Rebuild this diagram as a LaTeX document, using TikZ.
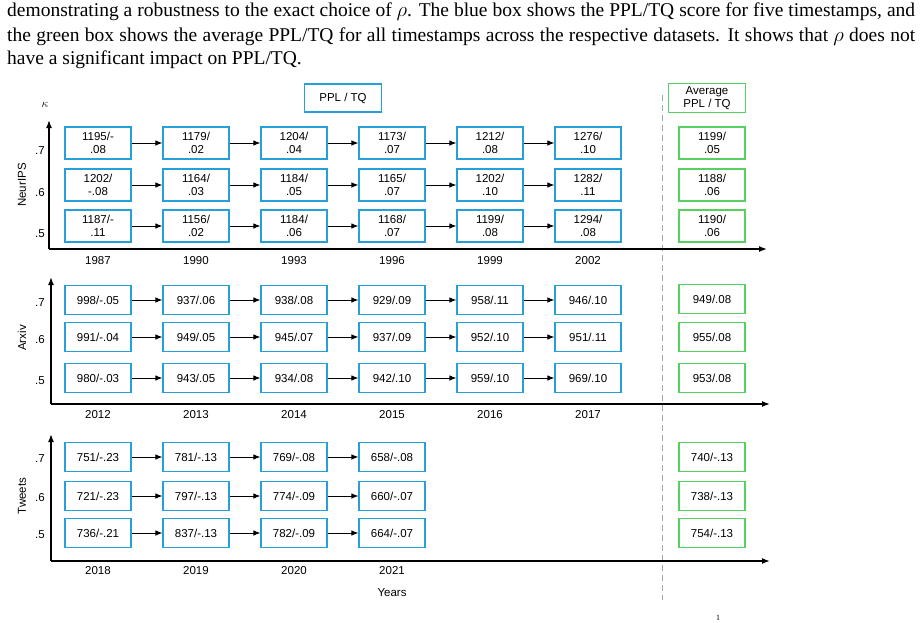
\documentclass[tikz,border=0pt]{standalone}
\usepackage{fontspec}
\setmainfont{Liberation Serif}
\setsansfont{Liberation Sans}
\usetikzlibrary{arrows.meta}
\definecolor{bbox}{RGB}{38,160,218}
\definecolor{gbox}{RGB}{88,208,96}
\begin{document}
\begin{tikzpicture}[x=1pt,y=-1pt,
  blu/.style={draw=bbox,line width=1.1pt,minimum width=66pt,inner sep=1pt,align=center,font=\sffamily\fontsize{11.5}{13}\selectfont},
  grn/.style={blu,draw=gbox},
  tall/.style={minimum height=32pt},
  short/.style={minimum height=29pt},
  conn/.style={-{Latex[length=7pt,width=5.5pt]},line width=1pt},
  ax/.style={-{Latex[length=8pt,width=6pt]},line width=1.5pt},
  lbl/.style={font=\sffamily\fontsize{11.5}{13}\selectfont},
  captxt/.style={anchor=west,inner sep=0pt,font=\fontsize{19.5}{22}\selectfont}]
\useasboundingbox (0,0) rectangle (921,622);
% caption
\node[captxt] (c1) at (7,12) {\makebox[908pt][s]{demonstrating a robustness to the exact choice of $\rho$. The blue box shows the PPL/TQ score for five timestamps, and}};
\node[captxt] (c2) at (7,37) {\makebox[908pt][s]{the green box shows the average PPL/TQ for all timestamps across the respective datasets. It shows that $\rho$ does not}};
\node[captxt] (c3) at (7,60) {have a significant impact on PPL/TQ.};
% headers
\node[blu,minimum width=77pt,minimum height=28pt] (h1) at (343,98) {PPL / TQ};
\node[grn,minimum width=77pt,minimum height=29pt] (h2) at (707,98) {Average\\PPL / TQ};
\node[lbl,font=\fontsize{12}{13}\selectfont] (kappa) at (45,105) {$\kappa$};
\draw[gray!70,line width=1pt,dash pattern=on 6pt off 4pt] (662,95) -- (662,600);
% NeurIPS
\coordinate (o1) at (49,249);
\draw[ax] (o1) -- (49,120);
\draw[ax] (o1) -- (767,249);
\node[lbl,rotate=90] (d1) at (22,185) {NeurIPS};
\foreach \y/\r/\k in {143/a/.7,185/b/.6,226/c/.5}{\node[lbl] (k1\r) at (40,\y+8) {\k};}
\foreach \t [count=\i] in {{1195/-\\.08},{1179/\\.02},{1204/\\.04},{1173/\\.07},{1212/\\.08},{1276/\\.10}}{\node[blu,tall] (n1a\i) at (98*\i,143) {\t};}
\foreach \t [count=\i] in {{1202/\\-.08},{1164/\\.03},{1184/\\.05},{1165/\\.07},{1202/\\.10},{1282/\\.11}}{\node[blu,tall] (n1b\i) at (98*\i,185) {\t};}
\foreach \t [count=\i] in {{1187/-\\.11},{1156/\\.02},{1184/\\.06},{1168/\\.07},{1199/\\.08},{1294/\\.08}}{\node[blu,tall] (n1c\i) at (98*\i,226) {\t};}
\node[grn,tall] (g1a) at (712,143) {1199/\\.05};
\node[grn,tall] (g1b) at (712,185) {1188/\\.06};
\node[grn,tall] (g1c) at (712,226) {1190/\\.06};
\foreach \t [count=\i] in {1987,1990,1993,1996,1999,2002}{\node[lbl] (y1\i) at (98*\i,261) {\t};}
% Arxiv
\coordinate (o2) at (51,404);
\draw[ax] (o2) -- (51,277);
\draw[ax] (o2) -- (770,404);
\node[lbl,rotate=90] (d2) at (22,338) {Arxiv};
\foreach \y/\r/\k in {300/a/.7,337/b/.6,378/c/.5}{\node[lbl] (k2\r) at (40,\y+3) {\k};}
\foreach \t [count=\i] in {998/-.05,937/.06,938/.08,929/.09,958/.11,946/.10}{\node[blu,short] (n2a\i) at (98*\i,300) {\t};}
\foreach \t [count=\i] in {991/-.04,949/.05,945/.07,937/.09,952/.10,951/.11}{\node[blu,short] (n2b\i) at (98*\i,337) {\t};}
\foreach \t [count=\i] in {980/-.03,943/.05,934/.08,942/.10,959/.10,969/.10}{\node[blu,short] (n2c\i) at (98*\i,378) {\t};}
\node[grn,short] (g2a) at (712,299) {949/.08};
\node[grn,short] (g2b) at (712,337) {955/.08};
\node[grn,short] (g2c) at (712,378) {953/.08};
\foreach \t [count=\i] in {2012,2013,2014,2015,2016,2017}{\node[lbl] (y2\i) at (98*\i,415) {\t};}
% Tweets
\coordinate (o3) at (51,561);
\draw[ax] (o3) -- (51,434);
\draw[ax] (o3) -- (770,561);
\node[lbl,rotate=90] (d3) at (22,496) {Tweets};
\foreach \y/\r/\k in {457/a/.7,496/b/.6,533/c/.5}{\node[lbl] (k3\r) at (40,\y+2) {\k};}
\foreach \t [count=\i] in {751/-.23,781/-.13,769/-.08,658/-.08}{\node[blu,short] (n3a\i) at (98*\i,457) {\t};}
\foreach \t [count=\i] in {721/-.23,797/-.13,774/-.09,660/-.07}{\node[blu,short] (n3b\i) at (98*\i,496) {\t};}
\foreach \t [count=\i] in {736/-.21,837/-.13,782/-.09,664/-.07}{\node[blu,short] (n3c\i) at (98*\i,533) {\t};}
\node[grn,short] (g3a) at (712,457) {740/-.13};
\node[grn,short] (g3b) at (712,496) {738/-.13};
\node[grn,short] (g3c) at (712,533) {754/-.13};
\foreach \t [count=\i] in {2018,2019,2020,2021}{\node[lbl] (y3\i) at (98*\i,571) {\t};}
\node[lbl] (yrs) at (392,593) {Years};
\node[font=\fontsize{8}{9}\selectfont] (fn) at (718,618) {1};
% connectors
\foreach \r in {a,b,c}{
  \foreach \i in {1,...,5}{\pgfmathtruncatemacro\j{\i+1}
    \draw[conn] (n1\r\i) -- (n1\r\j);
    \draw[conn] (n2\r\i) -- (n2\r\j);}
  \foreach \i in {1,2,3}{\pgfmathtruncatemacro\j{\i+1}
    \draw[conn] (n3\r\i) -- (n3\r\j);}
}
\end{tikzpicture}
\end{document}
